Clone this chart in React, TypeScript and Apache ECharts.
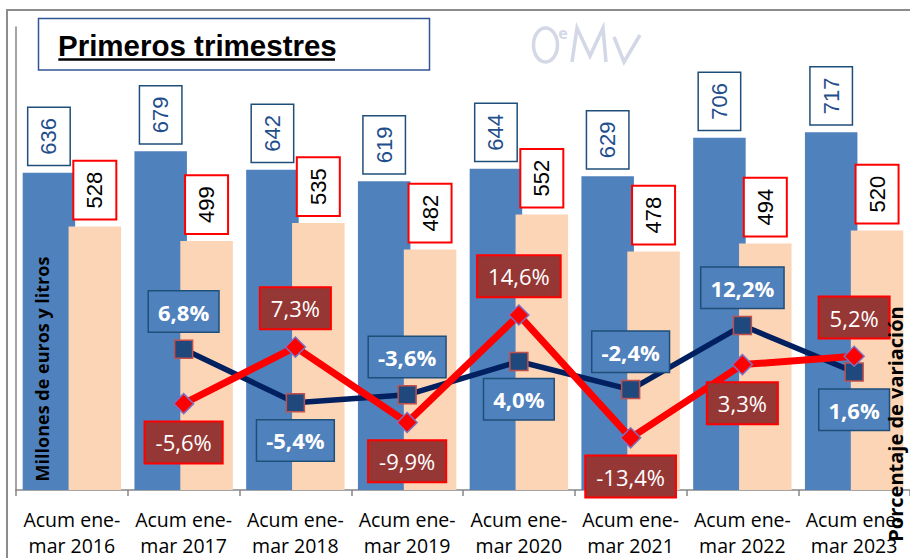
import React, { useEffect, useRef } from "react";
import * as echarts from "echarts";

const categories = [
  "Acum ene-\nmar 2016",
  "Acum ene-\nmar 2017",
  "Acum ene-\nmar 2018",
  "Acum ene-\nmar 2019",
  "Acum ene-\nmar 2020",
  "Acum ene-\nmar 2021",
  "Acum ene-\nmar 2022",
  "Acum ene-\nmar 2023",
];
const importes = [636, 679, 642, 619, 644, 629, 706, 717];
const litros = [528, 499, 535, 482, 552, 478, 494, 520];
const varImportes = [null, 6.8, -5.4, -3.6, 4.0, -2.4, 12.2, 1.6];
const varLitros = [null, -5.6, 7.3, -9.9, 14.6, -13.4, 3.3, 5.2];
const posImportes = ["top", "top", "bottom", "top", "bottom", "top", "top", "bottom"];
const posLitros = ["bottom", "bottom", "top", "bottom", "top", "bottom", "bottom", "top"];

const pct = (v: number) => v.toFixed(1).replace(".", ",") + "%";

export default function App() {
  const ref = useRef<HTMLDivElement>(null);
  useEffect(() => {
    if (!ref.current) return;
    const chart = echarts.init(ref.current, undefined, { renderer: "svg" });

    const barLabelBase = {
      show: true,
      position: "top",
      distance: 8,
      rotate: 90,
      align: "left",
      verticalAlign: "middle",
      fontFamily: "Liberation Sans, Arial, sans-serif",
      fontSize: 22,
      lineHeight: 25,
      padding: [8, 10],
      backgroundColor: "#ffffff",
    };

    const option: any = {
      animation: false,
      backgroundColor: "#ffffff",
      grid: { left: 16, right: 0, top: 27, bottom: 67, containLabel: false },
      xAxis: {
        type: "category",
        data: categories,
        boundaryGap: true,
        axisLine: { show: true, lineStyle: { color: "#868686", width: 1.5 } },
        axisTick: { show: true, length: 6, lineStyle: { color: "#868686", width: 1.5 } },
        axisLabel: {
          interval: 0,
          margin: 16,
          color: "#000000",
          fontFamily: "Open Sans, sans-serif",
          fontSize: 19.5,
          lineHeight: 26,
        },
        splitLine: { show: false },
      },
      yAxis: [
        {
          type: "value",
          min: 0,
          max: 928,
          axisLine: { show: true, lineStyle: { color: "#868686", width: 1.5 } },
          axisTick: { show: false },
          axisLabel: { show: false },
          splitLine: { show: false },
        },
        {
          type: "value",
          min: -25.3,
          max: 80.3,
          axisLine: { show: false },
          axisTick: { show: false },
          axisLabel: { show: false },
          splitLine: { show: false },
        },
      ],
      series: [
        {
          name: "Importe",
          type: "bar",
          data: importes,
          barWidth: 52.5,
          barGap: "-12.6%",
          itemStyle: { color: "#4F81BD" },
          z: 2,
          label: {
            ...barLabelBase,
            color: "#1F4E8C",
            borderColor: "#1F4E79",
            borderWidth: 1.5,
          },
        },
        {
          name: "Litros",
          type: "bar",
          data: litros,
          barWidth: 52.5,
          barGap: "-12.6%",
          itemStyle: { color: "#FBD5B5" },
          z: 2,
          label: {
            ...barLabelBase,
            color: "#000000",
            borderColor: "#FF0000",
            borderWidth: 2,
          },
        },
        {
          name: "Var. importe",
          type: "line",
          yAxisIndex: 1,
          z: 5,
          data: varImportes.map((v, i) => ({
            value: v,
            label: { position: posImportes[i] },
          })),
          symbol: "rect",
          symbolSize: 18,
          lineStyle: { color: "#002060", width: 5.5 },
          itemStyle: { color: "#1F497D", borderColor: "#C0504D", borderWidth: 1.5 },
          label: {
            show: true,
            distance: 8,
            formatter: (p: any) => (p.value == null ? "" : pct(p.value)),
            color: "#ffffff",
            fontFamily: "Open Sans, sans-serif",
            fontWeight: "bold",
            fontSize: 22,
            lineHeight: 30,
            padding: [5, 9],
            backgroundColor: "#4F81BD",
            borderColor: "#1F4E79",
            borderWidth: 1.5,
          },
        },
        {
          name: "Var. litros",
          type: "line",
          yAxisIndex: 1,
          z: 6,
          data: varLitros.map((v, i) => ({
            value: v,
            label: { position: posLitros[i] },
          })),
          symbol: "diamond",
          symbolSize: 20,
          lineStyle: { color: "#FF0000", width: 7 },
          itemStyle: { color: "#FF0000", borderColor: "#7F6FBF", borderWidth: 1.5 },
          label: {
            show: true,
            distance: 8,
            formatter: (p: any) => (p.value == null ? "" : pct(p.value)),
            color: "#ffffff",
            fontFamily: "Open Sans, sans-serif",
            fontSize: 22,
            lineHeight: 30,
            padding: [5, 10],
            backgroundColor: "#953735",
            borderColor: "#FF0000",
            borderWidth: 2,
          },
        },
      ],
      graphic: [
        {
          type: "polyline",
          z: 100,
          shape: { points: [[7, 558], [7, 10], [910, 10]] },
          style: { stroke: "#8C8C8C", lineWidth: 2, fill: "none" },
        },
        {
          type: "rect",
          z: 100,
          shape: { x: 38.5, y: 18.5, width: 391, height: 51.5 },
          style: { fill: "#ffffff", stroke: "#2F5597", lineWidth: 1.5 },
        },
        {
          type: "text",
          z: 101,
          x: 58,
          y: 45.5,
          style: {
            text: "Primeros trimestres",
            fill: "#000000",
            font: "bold 29.5px 'Liberation Sans', Arial, sans-serif",
            align: "left",
            verticalAlign: "middle",
          },
        },
        {
          type: "line",
          z: 101,
          shape: { x1: 58.3, y1: 59.5, x2: 335, y2: 59.5 },
          style: { stroke: "#000000", lineWidth: 2.5 },
        },
        {
          type: "ellipse",
          z: 100,
          shape: { cx: 545.5, cy: 45, rx: 12, ry: 17 },
          style: { fill: "none", stroke: "#D4D8E6", lineWidth: 3.5 },
        },
        {
          type: "text",
          z: 100,
          x: 563,
          y: 33,
          style: {
            text: "e",
            fill: "#D4D8E6",
            font: "bold 16px 'Open Sans', sans-serif",
            align: "center",
            verticalAlign: "middle",
          },
        },
        {
          type: "polyline",
          z: 100,
          shape: { points: [[572, 62], [577, 28], [590, 56], [603, 28], [606, 62]] },
          style: { fill: "none", stroke: "#D4D8E6", lineWidth: 3.5 },
        },
        {
          type: "polyline",
          z: 100,
          shape: { points: [[614, 37], [624, 62], [640, 35]] },
          style: { fill: "none", stroke: "#D4D8E6", lineWidth: 3.5 },
        },
        {
          type: "text",
          z: 100,
          x: 42,
          y: 369,
          rotation: Math.PI / 2,
          style: {
            text: "Millones de euros y litros",
            fill: "#000000",
            font: "bold 18px 'Open Sans', sans-serif",
            align: "center",
            verticalAlign: "middle",
          },
        },
        {
          type: "text",
          z: 100,
          x: 895,
          y: 424,
          rotation: Math.PI / 2,
          style: {
            text: "Porcentaje de variación",
            fill: "#000000",
            font: "bold 20px 'Open Sans', sans-serif",
            align: "center",
            verticalAlign: "middle",
          },
        },
      ],
    };

    chart.setOption(option);
    return () => chart.dispose();
  }, []);

  return (
    <div
      ref={ref}
      style={{ position: "fixed", left: 0, top: 0, width: 910, height: 558, background: "#fff" }}
    />
  );
}
